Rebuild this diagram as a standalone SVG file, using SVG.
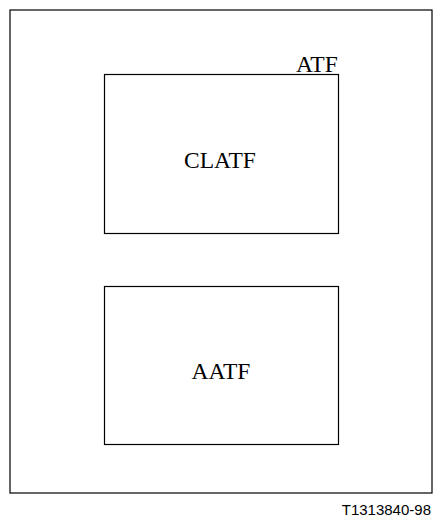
<svg xmlns="http://www.w3.org/2000/svg" width="434" height="517" viewBox="0 0 434 517">
<style>
.box{fill:#fff;stroke:#000;stroke-width:1.2}
.lbl{font-family:"Liberation Serif","Times New Roman",serif;font-size:23.5px;fill:#000}
.note{font-family:"Liberation Sans",Arial,sans-serif;font-size:15px;fill:#000}
</style>
<rect width="434" height="517" fill="#fff"/>
<g id="ATF">
<rect class="box" x="10" y="10" width="422" height="483"/>
<text class="lbl" x="296" y="72">ATF</text>
</g>
<g id="CLATF">
<rect class="box" x="104.5" y="74.5" width="234" height="159"/>
<text class="lbl" x="220" y="167.5" text-anchor="middle">CLATF</text>
</g>
<g id="AATF">
<rect class="box" x="104.5" y="286.5" width="234" height="158"/>
<text class="lbl" x="221" y="378.5" text-anchor="middle">AATF</text>
</g>
<g id="connectors"/>
<text class="note" x="431" y="515" text-anchor="end">T1313840-98</text>
</svg>
